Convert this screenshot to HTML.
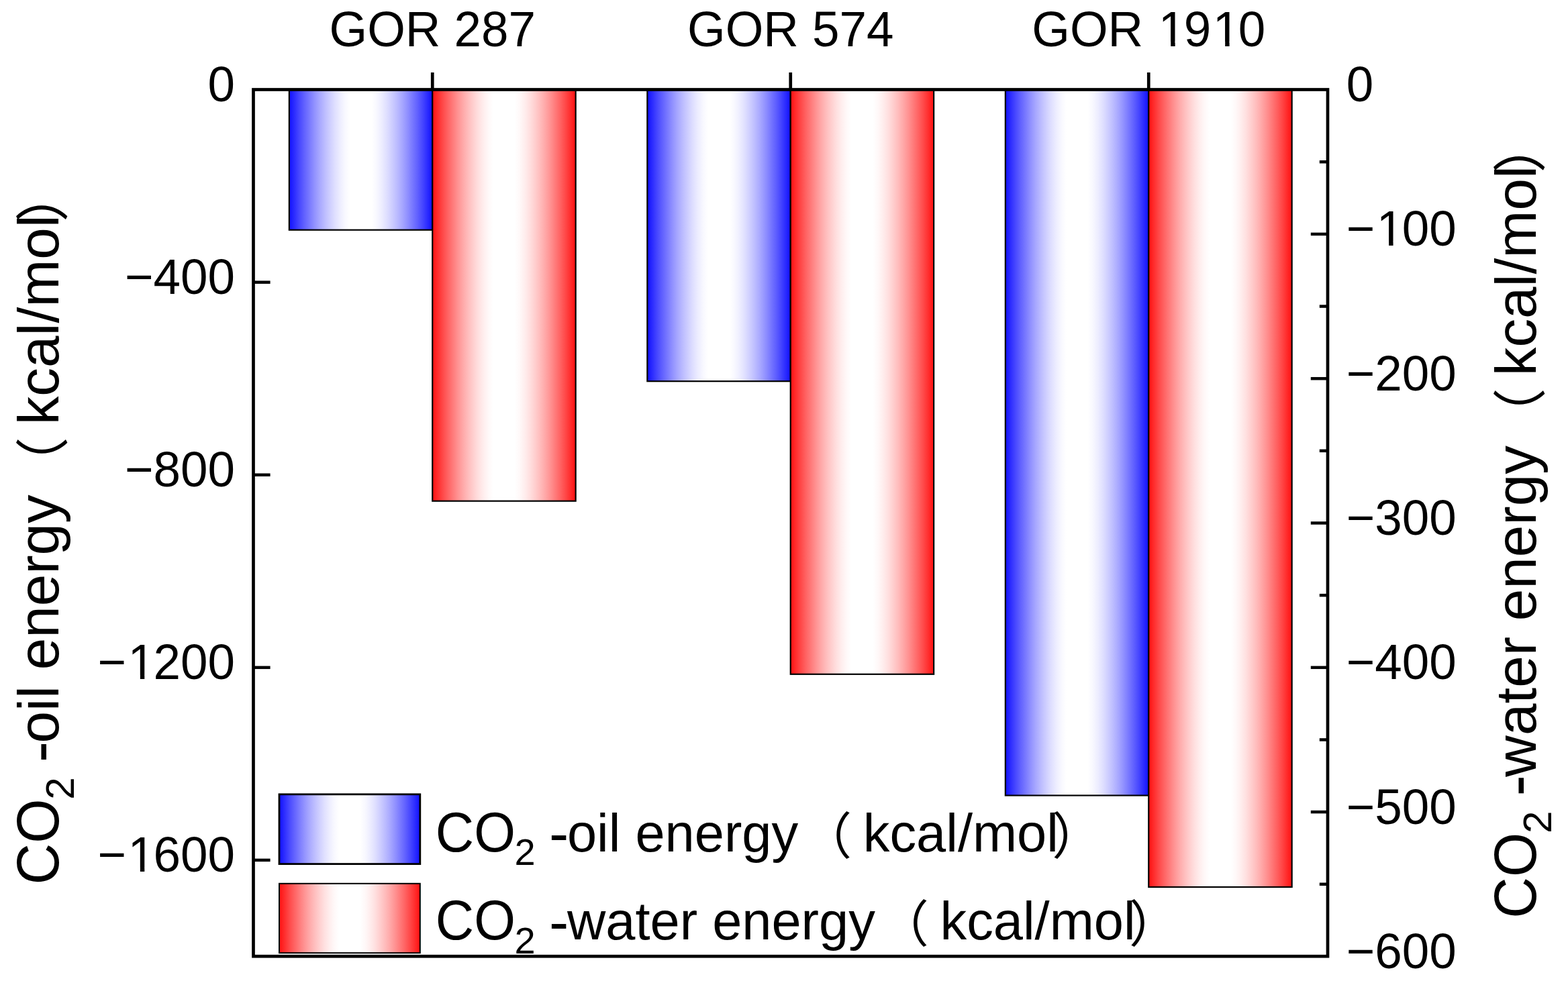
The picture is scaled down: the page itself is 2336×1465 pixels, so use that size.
<!DOCTYPE html>
<html><head><meta charset="utf-8"><title>CO2 energy chart</title>
<style>html,body{margin:0;padding:0;background:#fff;} svg{display:block;} text{font-family:"Liberation Sans", sans-serif;fill:#000;}</style>
</head><body>
<svg width="2336" height="1465" viewBox="0 0 2336 1465">
<rect width="2336" height="1465" fill="#fff"/>
<defs><clipPath id="c0" clipPathUnits="userSpaceOnUse"><rect x="-224.00" y="-200" width="448.00" height="193.76"/><rect x="-224.00" y="-200" width="242.70" height="300"/><rect x="32.96" y="-200" width="6.43" height="300"/><rect x="53.08" y="-200" width="46.59" height="300"/><rect x="113.93" y="-200" width="6.43" height="300"/><rect x="134.06" y="-200" width="89.94" height="300"/></clipPath><clipPath id="c1" clipPathUnits="userSpaceOnUse"><rect x="-254.47" y="-200" width="304.47" height="193.76"/><rect x="-254.47" y="-200" width="99.16" height="300"/><rect x="-141.04" y="-200" width="6.43" height="300"/><rect x="-120.92" y="-200" width="170.92" height="300"/></clipPath><clipPath id="c2" clipPathUnits="userSpaceOnUse"><rect x="-254.47" y="-200" width="304.47" height="193.76"/><rect x="-254.47" y="-200" width="99.16" height="300"/><rect x="-141.04" y="-200" width="6.43" height="300"/><rect x="-120.92" y="-200" width="170.92" height="300"/></clipPath><clipPath id="c3" clipPathUnits="userSpaceOnUse"><rect x="-50.00" y="-200" width="263.98" height="193.76"/><rect x="-50.00" y="-200" width="99.16" height="300"/><rect x="63.42" y="-200" width="6.43" height="300"/><rect x="83.55" y="-200" width="130.43" height="300"/></clipPath></defs>
<defs><linearGradient id="gb" x1="0" x2="1" y1="0" y2="0"><stop offset="0.0000" stop-color="#1010ff"/><stop offset="0.0354" stop-color="#2c2cff"/><stop offset="0.0708" stop-color="#4848ff"/><stop offset="0.1062" stop-color="#6262ff"/><stop offset="0.1417" stop-color="#7a7aff"/><stop offset="0.1771" stop-color="#9292ff"/><stop offset="0.2125" stop-color="#a8a8ff"/><stop offset="0.2479" stop-color="#bcbcff"/><stop offset="0.2833" stop-color="#ceceff"/><stop offset="0.3187" stop-color="#dfdfff"/><stop offset="0.3542" stop-color="#ededff"/><stop offset="0.3896" stop-color="#f8f8ff"/><stop offset="0.4250" stop-color="#ffffff"/><stop offset="0.5750" stop-color="#ffffff"/><stop offset="0.6104" stop-color="#f8f8ff"/><stop offset="0.6458" stop-color="#ededff"/><stop offset="0.6813" stop-color="#dfdfff"/><stop offset="0.7167" stop-color="#ceceff"/><stop offset="0.7521" stop-color="#bcbcff"/><stop offset="0.7875" stop-color="#a8a8ff"/><stop offset="0.8229" stop-color="#9292ff"/><stop offset="0.8583" stop-color="#7a7aff"/><stop offset="0.8938" stop-color="#6262ff"/><stop offset="0.9292" stop-color="#4848ff"/><stop offset="0.9646" stop-color="#2c2cff"/><stop offset="1.0000" stop-color="#1010ff"/></linearGradient><linearGradient id="gr" x1="0" x2="1" y1="0" y2="0"><stop offset="0.0000" stop-color="#ff1010"/><stop offset="0.0354" stop-color="#ff2c2c"/><stop offset="0.0708" stop-color="#ff4848"/><stop offset="0.1062" stop-color="#ff6262"/><stop offset="0.1417" stop-color="#ff7a7a"/><stop offset="0.1771" stop-color="#ff9292"/><stop offset="0.2125" stop-color="#ffa8a8"/><stop offset="0.2479" stop-color="#ffbcbc"/><stop offset="0.2833" stop-color="#ffcece"/><stop offset="0.3187" stop-color="#ffdfdf"/><stop offset="0.3542" stop-color="#ffeded"/><stop offset="0.3896" stop-color="#fff8f8"/><stop offset="0.4250" stop-color="#ffffff"/><stop offset="0.5750" stop-color="#ffffff"/><stop offset="0.6104" stop-color="#fff8f8"/><stop offset="0.6458" stop-color="#ffeded"/><stop offset="0.6813" stop-color="#ffdfdf"/><stop offset="0.7167" stop-color="#ffcece"/><stop offset="0.7521" stop-color="#ffbcbc"/><stop offset="0.7875" stop-color="#ffa8a8"/><stop offset="0.8229" stop-color="#ff9292"/><stop offset="0.8583" stop-color="#ff7a7a"/><stop offset="0.8938" stop-color="#ff6262"/><stop offset="0.9292" stop-color="#ff4848"/><stop offset="0.9646" stop-color="#ff2c2c"/><stop offset="1.0000" stop-color="#ff1010"/></linearGradient></defs>
<rect x="430.85" y="133.50" width="213.40" height="209.20" fill="url(#gb)" stroke="#000" stroke-width="2.2"/>
<rect x="644.25" y="133.50" width="213.40" height="613.20" fill="url(#gr)" stroke="#000" stroke-width="2.2"/>
<rect x="964.35" y="133.50" width="213.40" height="434.70" fill="url(#gb)" stroke="#000" stroke-width="2.2"/>
<rect x="1177.75" y="133.50" width="213.40" height="871.30" fill="url(#gr)" stroke="#000" stroke-width="2.2"/>
<rect x="1497.85" y="133.50" width="213.40" height="1052.00" fill="url(#gb)" stroke="#000" stroke-width="2.2"/>
<rect x="1711.25" y="133.50" width="213.40" height="1188.50" fill="url(#gr)" stroke="#000" stroke-width="2.2"/>
<rect x="377.5" y="133.5" width="1600.50" height="1291.70" fill="none" stroke="#000" stroke-width="4.7"/>
<line x1="644.25" y1="108" x2="644.25" y2="133.5" stroke="#000" stroke-width="4.7"/>
<line x1="1177.75" y1="108" x2="1177.75" y2="133.5" stroke="#000" stroke-width="4.7"/>
<line x1="1711.25" y1="108" x2="1711.25" y2="133.5" stroke="#000" stroke-width="4.7"/>
<line x1="377.5" y1="420.67" x2="402.6" y2="420.67" stroke="#000" stroke-width="4.5"/>
<line x1="377.5" y1="707.74" x2="402.6" y2="707.74" stroke="#000" stroke-width="4.5"/>
<line x1="377.5" y1="994.81" x2="402.6" y2="994.81" stroke="#000" stroke-width="4.5"/>
<line x1="377.5" y1="1281.88" x2="402.6" y2="1281.88" stroke="#000" stroke-width="4.5"/>
<line x1="1978.0" y1="241.25" x2="1965.8" y2="241.25" stroke="#000" stroke-width="4.5"/>
<line x1="1978.0" y1="348.90" x2="1952.8" y2="348.90" stroke="#000" stroke-width="4.5"/>
<line x1="1978.0" y1="456.55" x2="1965.8" y2="456.55" stroke="#000" stroke-width="4.5"/>
<line x1="1978.0" y1="564.20" x2="1952.8" y2="564.20" stroke="#000" stroke-width="4.5"/>
<line x1="1978.0" y1="671.85" x2="1965.8" y2="671.85" stroke="#000" stroke-width="4.5"/>
<line x1="1978.0" y1="779.50" x2="1952.8" y2="779.50" stroke="#000" stroke-width="4.5"/>
<line x1="1978.0" y1="887.15" x2="1965.8" y2="887.15" stroke="#000" stroke-width="4.5"/>
<line x1="1978.0" y1="994.80" x2="1952.8" y2="994.80" stroke="#000" stroke-width="4.5"/>
<line x1="1978.0" y1="1102.45" x2="1965.8" y2="1102.45" stroke="#000" stroke-width="4.5"/>
<line x1="1978.0" y1="1210.10" x2="1952.8" y2="1210.10" stroke="#000" stroke-width="4.5"/>
<line x1="1978.0" y1="1317.75" x2="1965.8" y2="1317.75" stroke="#000" stroke-width="4.5"/>
<rect x="416.0" y="1183.8" width="209.8" height="103.8" fill="url(#gb)" stroke="#000" stroke-width="2.8"/>
<rect x="416.0" y="1316.8" width="209.8" height="103.4" fill="url(#gr)" stroke="#000" stroke-width="2.0"/>
<text transform="translate(644.25 68.70) scale(1 1.028)" font-size="72.8" text-anchor="middle">GOR 287</text>
<text transform="translate(1177.75 68.70) scale(1 1.028)" font-size="72.8" text-anchor="middle">GOR 574</text>
<text transform="translate(1711.25 68.70) scale(1 1.028)" font-size="72.8" text-anchor="middle" clip-path="url(#c0)">GOR <tspan dx="2.60">1</tspan><tspan dx="-2.60">9</tspan><tspan dx="2.60">1</tspan><tspan dx="-2.60">0</tspan></text>
<text transform="translate(349.90 151.10) scale(1 1.028)" font-size="72.8" text-anchor="end">0</text>
<text transform="translate(349.90 438.17) scale(1 1.028)" font-size="72.8" text-anchor="end">−400</text>
<text transform="translate(349.90 725.24) scale(1 1.028)" font-size="72.8" text-anchor="end">−800</text>
<text transform="translate(349.90 1012.31) scale(1 1.028)" font-size="72.8" text-anchor="end" clip-path="url(#c1)">−<tspan dx="2.60">1</tspan><tspan dx="-2.60">2</tspan>00</text>
<text transform="translate(349.90 1299.38) scale(1 1.028)" font-size="72.8" text-anchor="end" clip-path="url(#c2)">−<tspan dx="2.60">1</tspan><tspan dx="-2.60">6</tspan>00</text>
<text transform="translate(2005.70 151.10) scale(1 1.028)" font-size="72.8">0</text>
<text transform="translate(2005.70 366.40) scale(1 1.028)" font-size="72.8" clip-path="url(#c3)">−<tspan dx="2.60">1</tspan><tspan dx="-2.60">0</tspan>0</text>
<text transform="translate(2005.70 581.70) scale(1 1.028)" font-size="72.8">−200</text>
<text transform="translate(2005.70 797.00) scale(1 1.028)" font-size="72.8">−300</text>
<text transform="translate(2005.70 1012.30) scale(1 1.028)" font-size="72.8">−400</text>
<text transform="translate(2005.70 1227.60) scale(1 1.028)" font-size="72.8">−500</text>
<text transform="translate(2005.70 1442.90) scale(1 1.028)" font-size="72.8">−600</text>
<text transform="translate(648.80 1268.80) scale(1 1.041)" font-size="79.40" style='font-family:"Liberation Sans", sans-serif'>CO</text>
<text transform="translate(766.48 1288.90) scale(1 0.98)" font-size="56.00" style='font-family:"Liberation Sans", sans-serif'>2</text>
<text transform="translate(818.12 1272.43) scale(1.107 1.13)" font-size="79.40">-</text>
<text transform="translate(844.94 1268.80) scale(1 1.0)" font-size="79.40" style='font-family:"Liberation Sans", sans-serif'>oil energy</text>
<text transform="translate(1194.41 1272.80) scale(1 1.0)" font-size="74.60" style='font-family:"Liberation Sans", "Noto Sans CJK SC", sans-serif'>（</text>
<text transform="translate(1285.71 1268.80) scale(1 1.0)" font-size="79.40" style='font-family:"Liberation Sans", sans-serif'>kcal/mol</text>
<text transform="translate(1567.16 1272.80) scale(1 1.0)" font-size="74.60" style='font-family:"Liberation Sans", "Noto Sans CJK SC", sans-serif'>）</text>
<text transform="translate(648.80 1400.40) scale(1 1.041)" font-size="79.40" style='font-family:"Liberation Sans", sans-serif'>CO</text>
<text transform="translate(766.48 1420.50) scale(1 0.98)" font-size="56.00" style='font-family:"Liberation Sans", sans-serif'>2</text>
<text transform="translate(818.12 1404.03) scale(1.107 1.13)" font-size="79.40">-</text>
<text transform="translate(844.94 1400.40) scale(1 1.0)" font-size="79.40" style='font-family:"Liberation Sans", sans-serif'>water energy</text>
<text transform="translate(1309.13 1404.40) scale(1 1.0)" font-size="74.60" style='font-family:"Liberation Sans", "Noto Sans CJK SC", sans-serif'>（</text>
<text transform="translate(1400.43 1400.40) scale(1 1.0)" font-size="79.40" style='font-family:"Liberation Sans", sans-serif'>kcal/mol</text>
<text transform="translate(1681.88 1404.40) scale(1 1.0)" font-size="74.60" style='font-family:"Liberation Sans", "Noto Sans CJK SC", sans-serif'>）</text>
<g transform="translate(86.60 1318.40) rotate(-90)">
<text transform="translate(0.00 0.00) scale(1 1.041)" font-size="85.40" style='font-family:"Liberation Sans", sans-serif'>CO</text>
<text transform="translate(126.58 22.90) scale(1 0.98)" font-size="60.23" style='font-family:"Liberation Sans", sans-serif'>2</text>
<text transform="translate(182.12 3.91) scale(1.107 1.13)" font-size="85.40">-</text>
<text transform="translate(210.96 0.00) scale(1 1.0)" font-size="85.40" style='font-family:"Liberation Sans", sans-serif'>oil energy</text>
<text transform="translate(586.84 6.00) scale(1 1.0)" font-size="80.24" style='font-family:"Liberation Sans", "Noto Sans CJK SC", sans-serif'>（</text>
<text transform="translate(685.04 0.00) scale(1 1.0)" font-size="85.40" style='font-family:"Liberation Sans", sans-serif'>kcal/mol</text>
<text transform="translate(987.76 6.00) scale(1 1.0)" font-size="80.24" style='font-family:"Liberation Sans", "Noto Sans CJK SC", sans-serif'>）</text>
</g>
<g transform="translate(2288.20 1368.70) rotate(-90)">
<text transform="translate(0.00 0.00) scale(1 1.041)" font-size="85.40" style='font-family:"Liberation Sans", sans-serif'>CO</text>
<text transform="translate(126.58 22.90) scale(1 0.98)" font-size="60.23" style='font-family:"Liberation Sans", sans-serif'>2</text>
<text transform="translate(182.12 3.91) scale(1.107 1.13)" font-size="85.40">-</text>
<text transform="translate(210.96 0.00) scale(1 1.0)" font-size="85.40" style='font-family:"Liberation Sans", sans-serif'>water energy</text>
<text transform="translate(710.23 6.00) scale(1 1.0)" font-size="80.24" style='font-family:"Liberation Sans", "Noto Sans CJK SC", sans-serif'>（</text>
<text transform="translate(808.43 0.00) scale(1 1.0)" font-size="85.40" style='font-family:"Liberation Sans", sans-serif'>kcal/mol</text>
<text transform="translate(1111.15 6.00) scale(1 1.0)" font-size="80.24" style='font-family:"Liberation Sans", "Noto Sans CJK SC", sans-serif'>）</text>
</g>
</svg>
</body></html>
